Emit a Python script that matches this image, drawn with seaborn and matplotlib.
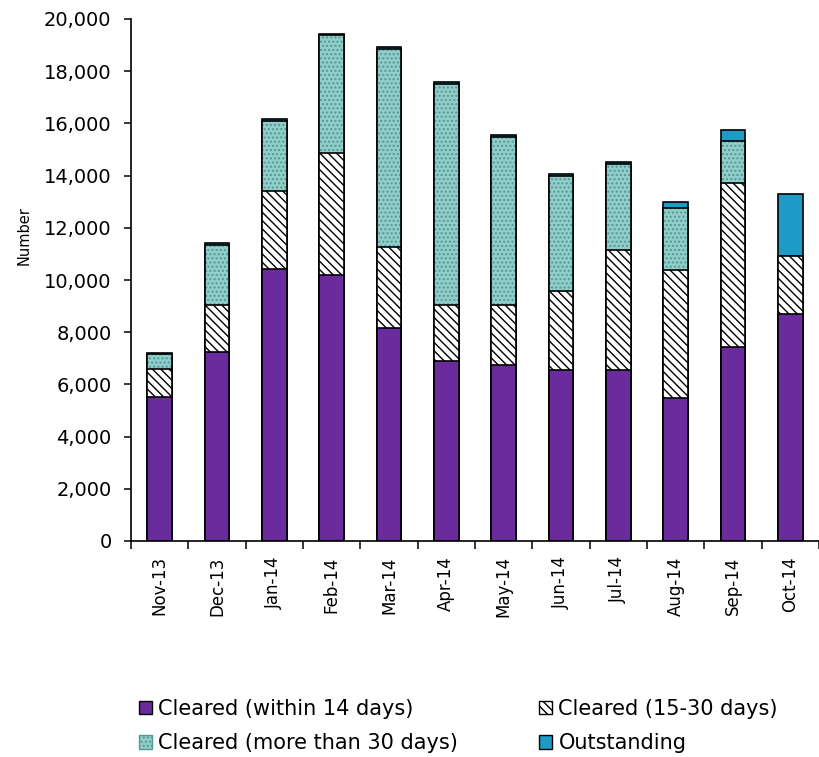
import numpy as np
import pandas as pd
import matplotlib
matplotlib.use("Agg")
import matplotlib.pyplot as plt
from matplotlib.patches import Patch
from matplotlib.ticker import FuncFormatter
import seaborn as sns

months = ["Nov-13", "Dec-13", "Jan-14", "Feb-14", "Mar-14", "Apr-14",
          "May-14", "Jun-14", "Jul-14", "Aug-14", "Sep-14", "Oct-14"]
cleared_14 = [5520, 7240, 10420, 10190, 8160, 6900, 6740, 6550, 6550, 5480, 7430, 8700]
cleared_15_30 = [1080, 1810, 2990, 4680, 3100, 2140, 2300, 3030, 4600, 4900, 6290, 2220]
cleared_30_plus = [570, 2290, 2690, 4500, 7590, 8480, 6440, 4420, 3310, 2380, 1610, 0]
outstanding = [50, 60, 70, 50, 80, 70, 80, 60, 60, 230, 420, 2380]

labels = ["Cleared (within 14 days)", "Cleared (15-30 days)",
          "Cleared (more than 30 days)", "Outstanding"]

PURPLE = "#6a2c9c"
TEAL = "#93cdc9"
TEAL_DOT = "#4f9a95"
BLUE = "#1e9ac6"
STRIPES = "\\\\\\\\"

df = pd.DataFrame({
    "month": months,
    "c14": cleared_14,
    "c15": cleared_15_30,
    "c30": cleared_30_plus,
    "out": outstanding,
})
df["top1"] = df["c14"]
df["top2"] = df["top1"] + df["c15"]
df["top3"] = df["top2"] + df["c30"]
df["top4"] = df["top3"] + df["out"]

sns.set_theme(style="white")
plt.rcParams["font.family"] = ["DejaVu Sans"]
plt.rcParams["hatch.linewidth"] = 1.0

fig = plt.figure(figsize=(8.19, 7.57), dpi=100)
ax = fig.add_axes([131 / 819, (757 - 541) / 757, 688 / 819, 522 / 757])

W = 0.43
common = dict(x="month", order=months, width=W, saturation=1, ax=ax)

# Stacked segments drawn as overlapping cumulative bars, tallest first
sns.barplot(data=df, y="top4", color=BLUE, edgecolor="black", linewidth=1.2, **common)
sns.barplot(data=df, y="top3", color=TEAL, edgecolor=TEAL_DOT, linewidth=0,
            hatch="....", **common)
sns.barplot(data=df, y="top3", fill=False, edgecolor="black", linewidth=1.2, **common)
sns.barplot(data=df, y="top2", color="white", edgecolor="black", linewidth=1.2,
            hatch=STRIPES, **common)
sns.barplot(data=df, y="top1", color=PURPLE, edgecolor="black", linewidth=1.2, **common)

ax.set_xlim(-0.5, 11.36)
ax.set_ylim(0, 20000)
ax.set_yticks(np.arange(0, 20001, 2000))
ax.yaxis.set_major_formatter(FuncFormatter(lambda v, p: f"{int(v):,}"))

for s in ["top", "right"]:
    ax.spines[s].set_visible(False)
for s in ["left", "bottom"]:
    ax.spines[s].set_color("black")
    ax.spines[s].set_linewidth(1.2)

ax.set_xlabel("")
ax.set_ylabel("Number", fontsize=10.5, color="black")
ax.yaxis.set_label_coords(-0.145, 0.585)

ax.tick_params(axis="y", which="major", left=True, length=5, width=1.1,
               labelsize=14, colors="black", direction="out", pad=9)
ax.set_xticks(np.arange(12))
ax.set_xticklabels(months, rotation=90)
ax.tick_params(axis="x", which="major", bottom=False, length=0, labelsize=12,
               colors="black", pad=11)
ax.set_xticks(np.arange(-0.5, 12, 1), minor=True)
ax.tick_params(axis="x", which="minor", bottom=True, length=6, width=1.1,
               color="black", direction="out")

handles = [
    Patch(facecolor=PURPLE, edgecolor="black", label=labels[0]),
    Patch(facecolor=TEAL, edgecolor=TEAL_DOT, hatch="....", label=labels[2]),
    Patch(facecolor="white", edgecolor="black", hatch=STRIPES, label=labels[1]),
    Patch(facecolor=BLUE, edgecolor="black", label=labels[3]),
]
fig.legend(handles=handles, ncol=2, loc="upper left",
           bbox_to_anchor=(139 / 819, 1 - 699 / 757), frameon=False,
           fontsize=15, labelcolor="black", handlelength=0.62, handleheight=0.62,
           handletextpad=0.3, columnspacing=3.9, labelspacing=0.68, borderpad=0,
           borderaxespad=0)

fig.savefig("out.png", dpi=100, facecolor="white")
